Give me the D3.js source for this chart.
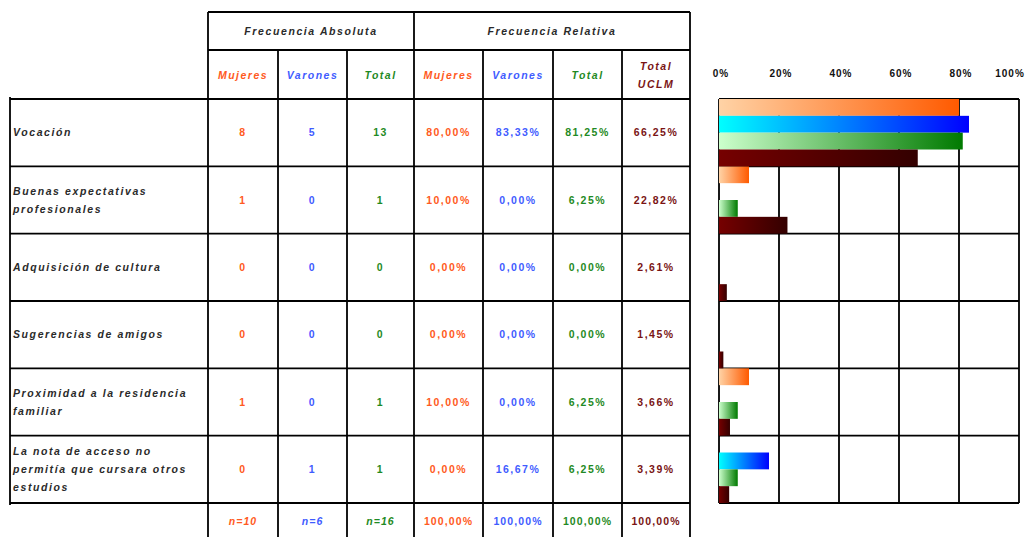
<!DOCTYPE html>
<html>
<head>
<meta charset="utf-8">
<script src="https://cdn.jsdelivr.net/npm/d3@7"></script>
<style>
  body { margin: 0; background: #fff; }
  text { font-family: "Liberation Sans", Arial, sans-serif; font-weight: bold; }
</style>
</head>
<body>
<svg></svg>
<script>
var width = 1030;
var height = 537;

// data
var categories = [
  "Vocación",
  "Buenas expectativas\nprofesionales",
  "Adquisición de cultura",
  "Sugerencias de amigos",
  "Proximidad a la residencia\nfamiliar",
  "La nota de acceso no\npermitía que cursara otros\nestudios"
];
var absMujeres = [8, 1, 0, 0, 1, 0];
var absVarones = [5, 0, 0, 0, 0, 1];
var absTotal = [13, 1, 0, 0, 1, 1];
var relMujeres = [80.00, 10.00, 0.00, 0.00, 10.00, 0.00];
var relVarones = [83.33, 0.00, 0.00, 0.00, 0.00, 16.67];
var relTotal = [81.25, 6.25, 0.00, 0.00, 6.25, 6.25];
var relUCLM = [66.25, 22.82, 2.61, 1.45, 3.66, 3.39];
var footer = ["n=10", "n=6", "n=16", "100,00%", "100,00%", "100,00%", "100,00%"];
var groupHeaders = ["Frecuencia Absoluta", "Frecuencia Relativa"];
var colHeaders = ["Mujeres", "Varones", "Total", "Mujeres", "Varones", "Total", "Total\nUCLM"];
var seriesNames = ["Mujeres", "Varones", "Total", "Total UCLM"];
var ticks = [0, 20, 40, 60, 80, 100];

var colors = {Mujeres: "#ff5a22", Varones: "#3f5cff", Total: "#1f8a24", "Total UCLM": "#7a1414"};
var colColors = ["Mujeres", "Varones", "Total", "Mujeres", "Varones", "Total", "Total UCLM"].map(k => colors[k]);

var svg = d3.select("svg").attr("width", width).attr("height", height);

var fmt = v => d3.format(".2f")(v).replace(".", ",") + "%";
var fs = 10.5, ls = 1.5;

// rows
var yScale = d3.scaleBand().domain(categories).range([99, 503]);
var colEdges = [208, 278, 347, 414, 483, 553, 622, 690];
var labelLeft = 10;
var lw = 1.8;

var grid = svg.append("g").attr("stroke", "#000").attr("stroke-width", lw);

// header lines
grid.append("line").attr("x1", 208).attr("x2", 690).attr("y1", 12).attr("y2", 12);
grid.append("line").attr("x1", 208).attr("x2", 690).attr("y1", 50).attr("y2", 50);
// column verticals
colEdges.forEach((x, i) => {
  var top = (i === 0 || i === 3 || i === 7) ? 12 : 50;
  grid.append("line").attr("x1", x).attr("x2", x).attr("y1", top).attr("y2", height);
});
// row lines
var rowLines = categories.map(c => yScale(c)).concat([yScale.range()[1]]);
rowLines.forEach(y => {
  grid.append("line").attr("x1", labelLeft).attr("x2", 690).attr("y1", y).attr("y2", y);
});
grid.append("line").attr("x1", labelLeft).attr("x2", labelLeft).attr("y1", 97).attr("y2", 505);

// group headers
svg.selectAll(".ghead").data(groupHeaders).enter().append("text")
  .attr("x", (d, i) => i === 0 ? (208 + 414) / 2 : (414 + 690) / 2)
  .attr("y", 31)
  .attr("dy", "0.35em")
  .attr("text-anchor", "middle")
  .attr("font-size", fs)
  .attr("font-style", "italic")
  .attr("letter-spacing", 1.6)
  .attr("fill", "#2a2a2a")
  .text(d => d);

// column headers
colHeaders.forEach((h, i) => {
  var lines = h.split("\n");
  var cx = (colEdges[i] + colEdges[i + 1]) / 2;
  var t = svg.append("text")
    .attr("x", cx)
    .attr("y", 75 - (lines.length - 1) * 9)
    .attr("text-anchor", "middle")
    .attr("font-size", fs)
    .attr("font-style", "italic")
    .attr("letter-spacing", ls)
    .attr("fill", colColors[i]);
  lines.forEach((l, j) => t.append("tspan").attr("x", cx)
    .attr("dy", j === 0 ? "0.35em" : 18).text(l));
});

// row labels
categories.forEach(c => {
  var lines = c.split("\n");
  var cy = yScale(c) + yScale.bandwidth() / 2;
  var t = svg.append("text")
    .attr("x", 13)
    .attr("y", cy - (lines.length - 1) * 9)
    .attr("font-size", fs)
    .attr("font-style", "italic")
    .attr("letter-spacing", 1.6)
    .attr("fill", "#2a2a2a");
  lines.forEach((l, j) => t.append("tspan").attr("x", 13).attr("dy", j === 0 ? "0.35em" : 18).text(l));
});

// cell values
var columns = [
  absMujeres.map(String), absVarones.map(String), absTotal.map(String),
  relMujeres.map(fmt), relVarones.map(fmt), relTotal.map(fmt), relUCLM.map(fmt)
];
columns.forEach((col, i) => {
  svg.selectAll(".c" + i).data(col).enter().append("text")
    .attr("x", (colEdges[i] + colEdges[i + 1]) / 2)
    .attr("y", (d, j) => yScale(categories[j]) + yScale.bandwidth() / 2)
    .attr("dy", "0.35em")
    .attr("text-anchor", "middle")
    .attr("font-size", fs)
    .attr("letter-spacing", ls)
    .attr("fill", colColors[i])
    .text(d => d);
});
// footer
svg.selectAll(".foot").data(footer).enter().append("text")
  .attr("x", (d, i) => (colEdges[i] + colEdges[i + 1]) / 2)
  .attr("y", 521)
  .attr("dy", "0.35em")
  .attr("text-anchor", "middle")
  .attr("font-size", fs)
  .attr("font-style", (d, i) => i < 3 ? "italic" : "normal")
  .attr("letter-spacing", 1.1)
  .attr("fill", (d, i) => colColors[i])
  .text(d => d);

// ---- bar chart ----
var xScale = d3.scaleLinear().domain([0, 100]).range([719, 1019]);
var inner = d3.scaleBand().domain(seriesNames).range([0, yScale.bandwidth()]);

var defs = svg.append("defs");
var grads = [
  ["Mujeres", "#ffd3a6", "#ff5a00"],
  ["Varones", "#00ffff", "#0000ff"],
  ["Total", "#ccffcc", "#007a00"],
  ["Total UCLM", "#760000", "#330000"]
];
grads.forEach((g, i) => {
  var lg = defs.append("linearGradient").attr("id", "g" + i)
    .attr("x1", "0%").attr("x2", "100%").attr("y1", "0%").attr("y2", "0%");
  lg.append("stop").attr("offset", "0%").attr("stop-color", g[1]);
  lg.append("stop").attr("offset", "100%").attr("stop-color", g[2]);
});

var chartGrid = svg.append("g").attr("stroke", "#000").attr("stroke-width", lw);
ticks.forEach(t => {
  chartGrid.append("line").attr("x1", xScale(t)).attr("x2", xScale(t))
    .attr("y1", yScale.range()[0]).attr("y2", yScale.range()[1]);
});
rowLines.forEach(y => {
  chartGrid.append("line").attr("x1", xScale(0)).attr("x2", xScale(100)).attr("y1", y).attr("y2", y);
});

var seriesData = [relMujeres, relVarones, relTotal, relUCLM];
seriesData.forEach((vals, s) => {
  svg.selectAll(".bar" + s).data(vals).enter().append("rect")
    .attr("x", xScale(0))
    .attr("y", (d, j) => yScale(categories[j]) + inner(seriesNames[s]))
    .attr("width", d => xScale(d) - xScale(0))
    .attr("height", inner.bandwidth())
    .attr("fill", "url(#g" + s + ")");
});

// top axis labels
svg.selectAll(".tick").data(ticks).enter().append("text")
  .attr("x", d => d === 100 ? xScale(d) - 9 : xScale(d) + 2)
  .attr("y", 73)
  .attr("dy", "0.35em")
  .attr("text-anchor", "middle")
  .attr("font-size", 10)
  .attr("letter-spacing", 1)
  .attr("fill", "#111")
  .text(d => d + "%");
</script>
</body>
</html>
